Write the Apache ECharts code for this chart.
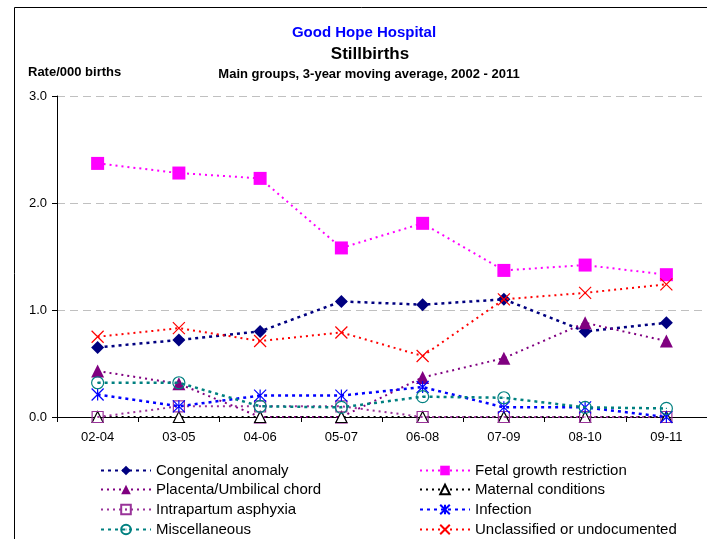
<!DOCTYPE html>
<html><head><meta charset="utf-8">
<script src="https://cdn.jsdelivr.net/npm/echarts@6/dist/echarts.min.js"></script>
<style>html,body{margin:0;padding:0;background:#fff}#c{width:707px;height:539px}</style>
</head><body><div id="c"></div>
<script>
const categories = ['02-04','03-05','04-06','05-07','06-08','07-09','08-10','09-11'];
const yTicks = [0, 1, 2, 3];
const congenital = [0.65, 0.72, 0.80, 1.08, 1.05, 1.10, 0.80, 0.88];
const fetal = [2.37, 2.28, 2.23, 1.58, 1.81, 1.37, 1.42, 1.33];
const placenta = [0.43, 0.31, 0.0, 0.0, 0.37, 0.55, 0.88, 0.71];
const maternal = [0, 0, 0, 0, 0, 0, 0, 0];
const intrapartum = [0.0, 0.10, 0.10, 0.10, 0.0, 0.0, 0.0, 0.0];
const infection = [0.21, 0.10, 0.20, 0.20, 0.28, 0.09, 0.09, 0.0];
const misc = [0.32, 0.32, 0.10, 0.09, 0.19, 0.18, 0.09, 0.08];
const unclassified = [0.75, 0.83, 0.71, 0.79, 0.57, 1.10, 1.16, 1.24];
const names = ['Congenital anomaly','Fetal growth restriction','Placenta/Umbilical chord','Maternal conditions','Intrapartum asphyxia','Infection','Miscellaneous','Unclassified or undocumented'];

const FONT = '"Liberation Sans", Arial, sans-serif';
const P_X = 'path://M0,0L10,10M10,0L0,10';
const P_AST = 'path://M0,0L10,10M10,0L0,10M5,0L5,10';
const P_CIRC = 'path://M10,5A5,5,0,1,1,0,5A5,5,0,1,1,10,5ZM4.6,5L5.4,5';
const P_SQ = 'path://M0,0L10,0L10,10L0,10ZM4.6,5L5.4,5';

function S(name, data, color, symbol, size, fill, dash, lw, z) {
  return {
    name, type: 'line', data, symbol, symbolSize: size, z: z,
    lineStyle: { color, width: lw, type: dash },
    itemStyle: { color: fill, borderColor: color, borderWidth: fill === color ? 0 : 1.2 },
    emphasis: { disabled: true }, animation: false
  };
}
const series = [
  S(names[0], congenital, '#000080', 'diamond', 13, '#000080', [3,4], 2.5, 2),
  S(names[1], fetal, '#ff00ff', 'rect', 13, '#ff00ff', [2,4], 2, 3),
  S(names[2], placenta, '#800080', 'triangle', 13, '#800080', [2,4], 2, 4),
  S(names[3], maternal, '#000000', 'triangle', 11, '#ffffff', [2,4], 2, 5),
  S(names[4], intrapartum, '#993399', P_SQ, 11, 'none', [2,4], 2, 6),
  S(names[5], infection, '#0000ff', P_AST, 12, 'none', [3,4], 2.5, 7),
  S(names[6], misc, '#008080', P_CIRC, 12, 'none', [3,4], 2.5, 8),
  S(names[7], unclassified, '#ff0000', P_X, 12, 'none', [2,4], 2, 9)
];

const legendCols = [100, 419];
const legendRows = [463, 482, 502, 522];
const legends = names.map((n, i) => ({
  data: [n], left: legendCols[i % 2], top: legendRows[Math.floor(i / 2)],
  itemWidth: 50, itemHeight: 12, itemGap: 0, padding: 0,
  textStyle: { fontSize: 15, color: '#000', fontFamily: FONT, padding: [0, 0, 0, 0] },
  selectedMode: false
}));

const chart = echarts.init(document.getElementById('c'), null, { renderer: 'canvas' });
chart.setOption({
  animation: false,
  backgroundColor: '#fff',
  textStyle: { fontFamily: FONT },
  title: [
    { text: 'Good Hope Hospital', left: 364, top: 25, padding: 0, textAlign: 'center', textStyle: { color: '#0000ff', fontSize: 15, fontWeight: 'bold', fontFamily: FONT } },
    { text: 'Stillbirths', left: 370, top: 46, padding: 0, textAlign: 'center', textStyle: { color: '#000', fontSize: 17, fontWeight: 'bold', fontFamily: FONT } },
    { text: 'Main groups, 3-year moving average, 2002 - 2011', left: 369, top: 68, padding: 0, textAlign: 'center', textStyle: { color: '#000', fontSize: 13, fontWeight: 'bold', fontFamily: FONT } },
    { text: 'Rate/000 births', left: 28, top: 66, padding: 0, textStyle: { color: '#000', fontSize: 13, fontWeight: 'bold', fontFamily: FONT } }
  ],
  graphic: [{ type: 'rect', shape: { x: 14.5, y: 7.5, width: 720, height: 560 }, style: { fill: 'none', stroke: '#000', lineWidth: 1 }, z: -1, silent: true }],
  grid: { left: 57, top: 96, width: 651, height: 321 },
  xAxis: {
    type: 'category', data: categories, boundaryGap: true,
    axisLine: { lineStyle: { color: '#000', width: 1 } },
    axisTick: { show: true, length: 5, lineStyle: { color: '#000' } },
    axisLabel: { color: '#000', fontSize: 13, margin: 14, fontFamily: FONT }
  },
  yAxis: {
    type: 'value', min: yTicks[0], max: yTicks[yTicks.length - 1], interval: 1,
    axisLine: { show: true, lineStyle: { color: '#000', width: 1 } },
    axisTick: { show: true, length: 5, lineStyle: { color: '#000' } },
    axisLabel: { color: '#000', fontSize: 13, margin: 10, formatter: v => v.toFixed(1), fontFamily: FONT },
    splitLine: { show: true, lineStyle: { color: '#c0c0c0', type: [8, 5], width: 1 } }
  },
  legend: legends,
  series
});
</script></body></html>
